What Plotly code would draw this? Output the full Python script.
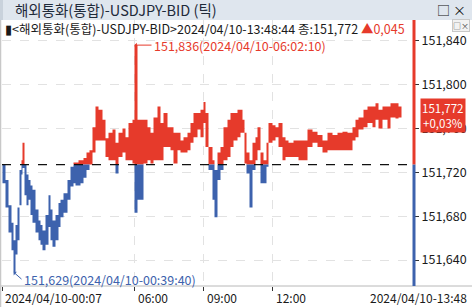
import plotly.graph_objects as go

# ---- data (tick sequence index, per-bucket high / low) ----
tick_no = [0, 30, 60, 90, 110, 130, 150, 170, 190, 200, 220, 240, 260, 280, 300, 330, 360, 380, 400, 430,
           460, 480, 500, 530, 560, 580, 610, 650, 680, 710, 730, 760, 780, 810, 840, 870, 900, 930, 960, 1000,
           1030, 1060, 1100, 1130, 1160, 1200, 1230, 1260, 1300, 1320, 1350, 1380, 1410, 1450, 1480, 1510, 1550, 1580, 1610, 1650,
           1680, 1710, 1750, 1780, 1810, 1850, 1880, 1910, 1950, 1980, 2010, 2030, 2060, 2100, 2120, 2150, 2180, 2210, 2250, 2280,
           2310, 2350, 2380, 2400, 2420, 2440, 2470, 2500, 2530, 2550, 2580, 2610, 2640, 2660, 2700, 2730, 2760, 2800, 2830, 2860,
           2910, 2960, 3000, 3050, 3100, 3150, 3200, 3250, 3300, 3350, 3400, 3450, 3500, 3530, 3560, 3610, 3650, 3700, 3730, 3760,
           3800, 3850, 3880, 3930, 3960, 3990]
high = [151.727, 151.713, 151.690, 151.674, 151.658, 151.672, 151.688, 151.722, 151.731, 151.747, 151.727, 151.718, 151.713, 151.708, 151.704, 151.686, 151.676, 151.672, 151.667, 151.681,
        151.699, 151.686, 151.676, 151.681, 151.692, 151.695, 151.701, 151.713, 151.725, 151.729, 151.729, 151.731, 151.731, 151.733, 151.738, 151.740, 151.761, 151.780, 151.777, 151.768,
        151.751, 151.756, 151.759, 151.747, 151.756, 151.760, 151.752, 151.765, 151.768, 151.836, 151.768, 151.768, 151.768, 151.761, 151.756, 151.770, 151.780, 151.765, 151.774, 151.761,
        151.761, 151.756, 151.756, 151.749, 151.752, 151.756, 151.765, 151.774, 151.774, 151.777, 151.784, 151.774, 151.743, 151.731, 151.722, 151.738, 151.743, 151.761, 151.768, 151.774,
        151.774, 151.777, 151.777, 151.768, 151.756, 151.738, 151.731, 151.747, 151.752, 151.761, 151.738, 151.731, 151.747, 151.765, 151.763, 151.761, 151.765, 151.752, 151.749, 151.747,
        151.749, 151.749, 151.749, 151.759, 151.757, 151.754, 151.749, 151.756, 151.754, 151.756, 151.757, 151.756, 151.761, 151.768, 151.770, 151.777, 151.780, 151.780, 151.783, 151.777,
        151.780, 151.780, 151.783, 151.783, 151.780, 151.777]
low = [151.710, 151.688, 151.665, 151.649, 151.629, 151.645, 151.658, 151.690, 151.718, 151.724, 151.699, 151.690, 151.695, 151.681, 151.674, 151.665, 151.658, 151.654, 151.649, 151.654,
       151.670, 151.658, 151.652, 151.658, 151.670, 151.679, 151.683, 151.695, 151.707, 151.710, 151.708, 151.708, 151.710, 151.715, 151.722, 151.727, 151.738, 151.749, 151.749, 151.749,
       151.734, 151.731, 151.731, 151.719, 151.734, 151.738, 151.731, 151.731, 151.728, 151.683, 151.695, 151.695, 151.728, 151.731, 151.728, 151.731, 151.731, 151.731, 151.743, 151.743,
       151.740, 151.728, 151.740, 151.738, 151.738, 151.740, 151.747, 151.752, 151.759, 151.752, 151.765, 151.743, 151.722, 151.695, 151.679, 151.713, 151.722, 151.731, 151.734, 151.743,
       151.749, 151.752, 151.756, 151.756, 151.728, 151.719, 151.688, 151.722, 151.731, 151.740, 151.710, 151.710, 151.725, 151.747, 151.749, 151.752, 151.743, 151.731, 151.734, 151.734,
       151.734, 151.731, 151.731, 151.743, 151.747, 151.743, 151.738, 151.740, 151.740, 151.740, 151.740, 151.740, 151.749, 151.752, 151.759, 151.761, 151.765, 151.761, 151.768, 151.760,
       151.768, 151.760, 151.770, 151.769, 151.770, 151.759]
assert len(tick_no) == len(high) == len(low)

ref_price = 151.727          # previous close (dashed line)
last_price = 151.772
change = 0.045
change_pct = 0.03
last_time = "2024/04/10-13:48:44"
max_time = "2024/04/10-06:02:10"
min_time = "2024/04/10-00:39:40"

xtick_vals = [0, 1320, 2010, 2700]
xtick_text = ["2024/04/10-00:07", "06:00", "09:00", "12:00"]
end_label = "2024/04/10-13:48"
ytick_vals = [151.64, 151.68, 151.72, 151.76, 151.80, 151.84]

title_text = "해외통화(통합)-USDJPY-BID (틱)"
symbol_text = "<해외통화(통합)-USDJPY-BID>"

RED = "#e63a2b"
BLUE = "#3d62ad"
FONT = "Noto Sans CJK KR"

def fmt(v):
    return f"{v:.3f}".replace(".", ",")

y_range = [151.6163, 151.8589]
x_range = [-5, 4115]

red_top = [max(h, ref_price) for h in high]
red_bot = [max(l, ref_price) for l in low]
blue_top = [min(h, ref_price) for h in high]
blue_bot = [min(l, ref_price) for l in low]

fig = go.Figure()
for top, bot, col in [(red_top, red_bot, RED), (blue_top, blue_bot, BLUE)]:
    fig.add_trace(go.Scatter(x=tick_no, y=bot, mode="lines", line=dict(width=0, color=col, shape="hv"),
                             hoverinfo="skip", showlegend=False))
    fig.add_trace(go.Scatter(x=tick_no, y=top, mode="lines", line=dict(width=0, color=col, shape="hv"),
                             fill="tonexty", fillcolor=col, hoverinfo="skip", showlegend=False))

imax = high.index(max(high))
imin = low.index(min(low))

W, H = 472, 307
ML, MR, MT, MB = 2, 58, 20, 21
PW, PH = W - ML - MR, H - MT - MB

def px_to_paper_x(px):
    return (px - ML) / PW

def py_to_paper_y(py):
    return 1 - (py - MT) / PH

shapes = [
    # title bar
    dict(type="rect", xref="paper", yref="paper", x0=px_to_paper_x(0), x1=px_to_paper_x(W),
         y0=1, y1=py_to_paper_y(0), fillcolor="#dfe6ee", line=dict(width=0), layer="below"),
    dict(type="rect", xref="paper", yref="paper", x0=px_to_paper_x(0), x1=px_to_paper_x(3),
         y0=1, y1=py_to_paper_y(0), fillcolor="#c9d2dc", line=dict(width=0)),
    # bottom axis separator
    dict(type="line", xref="paper", yref="paper", x0=px_to_paper_x(0), x1=px_to_paper_x(W),
         y0=0, y1=0, line=dict(color="#b8b8b8", width=1)),
    # left border
    dict(type="line", xref="paper", yref="paper", x0=px_to_paper_x(0.5), x1=px_to_paper_x(0.5),
         y0=py_to_paper_y(H), y1=1, line=dict(color="#c8c8c8", width=1.5)),
    # reference dashed line
    dict(type="line", xref="paper", yref="y", x0=0, x1=1, y0=ref_price, y1=ref_price,
         line=dict(color="#111111", width=1.2, dash="dash")),
    # coloured price axis line
    dict(type="line", xref="paper", yref="y", x0=1, x1=1, y0=ref_price, y1=y_range[1],
         line=dict(color=RED, width=3)),
    dict(type="line", xref="paper", yref="y", x0=1, x1=1, y0=y_range[0], y1=ref_price,
         line=dict(color=BLUE, width=3)),
]

annotations = [
    dict(text=title_text, xref="paper", yref="paper", x=px_to_paper_x(13), y=py_to_paper_y(9.5),
         xanchor="left", yanchor="middle", showarrow=False, font=dict(family=FONT, size=14.5, color="#1e2a3a")),
    dict(text="□ ×", xref="paper", yref="paper", x=px_to_paper_x(468), y=py_to_paper_y(10),
         xanchor="right", yanchor="middle", showarrow=False, font=dict(family=FONT, size=13, color="#111111")),
    dict(text=f"▮{symbol_text}{last_time} 종:{fmt(last_price)} <span style='color:{RED}'>▲{fmt(change)}</span>",
         xref="paper", yref="paper", x=px_to_paper_x(3), y=py_to_paper_y(28),
         xanchor="left", yanchor="middle", showarrow=False, font=dict(family=FONT, size=12.5, color="#1a1a1a")),
    dict(text="□×", xref="paper", yref="paper", x=px_to_paper_x(470), y=py_to_paper_y(25),
         xanchor="right", yanchor="middle", showarrow=False, bgcolor="#f2f2f2", bordercolor="#c8c8c8",
         borderwidth=1, borderpad=0, font=dict(family=FONT, size=8, color="#444444")),
    # max / min markers
    dict(text=f"{fmt(high[imax])}({max_time})", x=tick_no[imax], y=high[imax], xref="x", yref="y",
         showarrow=True, ax=17, ay=0, xanchor="left", yanchor="middle", arrowhead=1, arrowsize=0.8,
         arrowwidth=1, arrowcolor=RED, font=dict(family=FONT, size=12.5, color=RED)),
    dict(text=f"{fmt(low[imin])}({min_time})", x=tick_no[imin], y=low[imin], xref="x", yref="y",
         showarrow=True, ax=8, ay=7, xanchor="left", yanchor="middle", arrowhead=1, arrowsize=0.8,
         arrowwidth=1, arrowcolor=BLUE, font=dict(family=FONT, size=12.5, color=BLUE)),
    # last price box
    dict(text=f"{fmt(last_price)}<br>+{change_pct:.2f}%".replace(".", ","), x=1, y=last_price,
         xref="paper", yref="y", xanchor="left", yanchor="middle", xshift=6, showarrow=False,
         bgcolor=RED, borderpad=1, align="center",
         font=dict(family=FONT, size=11.5, color="white")),
]
# x-axis labels (left aligned after the tick mark)
for v, t in zip(xtick_vals, xtick_text):
    annotations.append(dict(text=t, x=v, y=py_to_paper_y(297), xref="x", yref="paper", xanchor="left",
                            yanchor="middle", xshift=0 if v == 0 else 1, showarrow=False,
                            font=dict(family=FONT, size=12, color="#1a1a1a")))
annotations.append(dict(text=end_label, x=px_to_paper_x(469), y=py_to_paper_y(297), xref="paper", yref="paper",
                        xanchor="right", yanchor="middle", showarrow=False,
                        font=dict(family=FONT, size=12, color="#1a1a1a")))

fig.update_layout(
    width=W, height=H, margin=dict(l=ML, r=MR, t=MT, b=MB),
    paper_bgcolor="white", plot_bgcolor="white", separators=",.",
    showlegend=False, shapes=shapes, annotations=annotations,
    xaxis=dict(range=x_range, tickvals=xtick_vals, showticklabels=False, ticks="outside", ticklen=4,
               tickcolor="#333333", showgrid=True, gridcolor="#e2e2e2", griddash="dash", zeroline=False,
               showline=False, fixedrange=True),
    yaxis=dict(range=y_range, side="right", tickvals=ytick_vals, tickformat=".3f", ticks="outside",
               ticklen=4, tickcolor="#333333", showgrid=True, gridcolor="#e2e2e2", griddash="dash",
               zeroline=False, showline=False, ticklabelstandoff=0,
               tickfont=dict(family=FONT, size=12.5, color="#1a1a1a")),
)

fig.write_html("out.html")
